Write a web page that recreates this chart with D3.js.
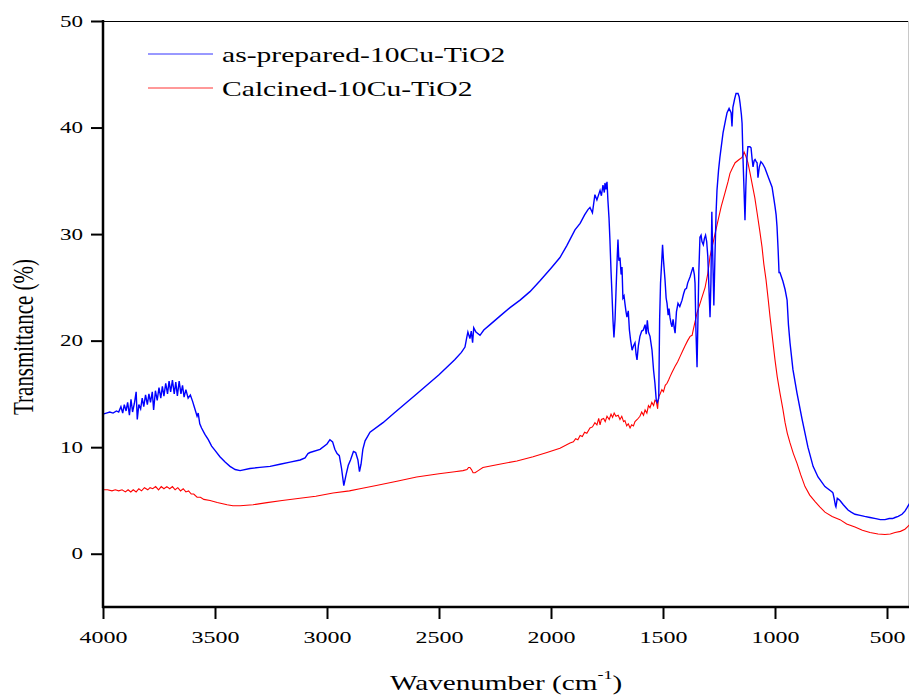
<!DOCTYPE html>
<html>
<head>
<meta charset="utf-8">
<script src="https://cdn.jsdelivr.net/npm/d3@7"></script>
<style>
  body { margin: 0; background: #fff; }
  svg { display: block; font-family: "Liberation Serif", "Times New Roman", serif; }
</style>
</head>
<body>
<svg id="chart" width="909" height="696"></svg>
<script>
"use strict";

// wavenumber (cm-1), transmittance (%)
const asPrepared = [
  [4000,13.1],[3985,13.2],[3970,13.3],[3955,13.2],[3940,13.4],[3930,13.3],[3920,13.8],[3912,13.2],
  [3905,14.0],[3897,13.4],[3890,14.2],[3882,13.0],[3875,14.5],[3868,13.3],[3860,14.1],[3852,15.2],
  [3847,12.6],[3840,14.0],[3832,13.6],[3825,14.6],[3818,13.8],[3810,14.9],[3802,14.0],[3795,15.0],
  [3788,14.2],[3780,15.2],[3774,13.5],[3766,15.3],[3758,14.4],[3750,15.6],[3742,14.6],[3735,15.7],
  [3728,14.8],[3720,16.0],[3712,15.0],[3705,16.2],[3698,15.2],[3690,16.3],[3682,15.0],[3675,16.1],
  [3668,14.8],[3660,16.2],[3652,15.0],[3645,15.8],[3638,14.7],[3630,15.4],[3620,14.6],[3610,14.9],
  [3600,14.3],[3590,13.6],[3580,12.9],[3575,13.2],[3568,12.2],[3560,11.8],[3545,11.2],[3530,10.7],
  [3515,10.1],[3500,9.7],[3478,9.1],[3455,8.6],[3433,8.2],[3410,7.9],[3388,7.8],[3344,8.0],
  [3300,8.1],[3254,8.2],[3210,8.4],[3165,8.6],[3120,8.8],[3098,9.0],[3085,9.4],[3076,9.5],
  [3031,9.8],[3000,10.3],[2987,10.7],[2975,10.5],[2965,9.8],[2955,9.4],[2945,9.2],[2935,8.0],
  [2925,6.4],[2915,7.4],[2905,8.3],[2895,8.8],[2882,9.6],[2872,9.5],[2862,8.8],[2855,7.7],
  [2848,8.4],[2840,9.8],[2830,10.6],[2808,11.4],[2750,12.3],[2700,13.2],[2600,15.0],[2500,16.8],
  [2430,18.2],[2400,18.9],[2384,19.4],[2376,20.3],[2371,20.8],[2362,20.2],[2356,20.9],[2350,19.8],
  [2345,21.2],[2335,20.8],[2317,20.5],[2300,21.0],[2272,21.5],[2228,22.3],[2183,23.1],
  [2138,23.8],[2094,24.6],[2050,25.6],[2000,26.8],[1960,27.8],[1930,28.9],[1893,30.4],[1870,31.0],
  [1850,31.8],[1835,32.3],[1826,32.5],[1815,32.0],[1804,33.7],[1795,33.2],[1781,34.1],[1775,33.6],
  [1768,34.6],[1762,33.9],[1759,34.8],[1755,34.2],[1750,34.9],[1746,33.2],[1741,31.5],[1737,29.5],
  [1732,26.5],[1728,24.5],[1723,21.8],[1719,20.3],[1714,22.0],[1710,24.5],[1705,27.5],[1701,29.5],
  [1697,27.5],[1692,27.8],[1687,26.2],[1683,26.9],[1679,24.0],[1674,24.2],[1670,23.5],[1665,22.7],
  [1661,22.2],[1655,22.8],[1650,21.0],[1645,20.1],[1638,19.1],[1632,19.5],[1625,19.8],[1620,18.7],
  [1616,18.2],[1610,19.5],[1603,20.4],[1595,20.9],[1588,21.0],[1580,21.5],[1575,20.6],[1570,21.9],
  [1565,20.8],[1558,20.4],[1549,19.1],[1542,17.2],[1536,16.0],[1530,14.4],[1525,14.2],[1519,14.6],
  [1515,22.0],[1511,25.4],[1506,27.3],[1502,29.0],[1498,27.6],[1494,26.5],[1491,25.7],[1486,24.0],
  [1482,23.5],[1477,22.4],[1473,23.0],[1469,22.2],[1464,21.6],[1460,21.3],[1455,22.0],[1450,21.2],
  [1446,20.7],[1440,22.7],[1433,23.5],[1425,23.2],[1415,23.8],[1408,24.4],[1402,24.8],[1395,24.9],
  [1390,25.4],[1379,26.0],[1372,26.5],[1366,26.9],[1360,26.2],[1357,25.4],[1353,21.0],[1348,17.5],
  [1344,22.0],[1340,26.5],[1335,29.7],[1330,29.9],[1326,29.3],[1320,29.0],[1315,29.6],[1310,29.9],
  [1305,29.3],[1300,27.9],[1295,25.0],[1290,22.2],[1286,25.5],[1282,32.1],[1278,28.0],[1273,23.3],
  [1268,28.0],[1263,32.0],[1259,34.1],[1252,36.0],[1246,37.2],[1232,39.5],[1220,40.8],[1214,41.4],
  [1205,41.8],[1196,41.4],[1192,40.1],[1188,41.9],[1180,42.7],[1174,43.2],[1165,43.2],[1160,42.9],
  [1156,42.3],[1150,41.2],[1147,40.4],[1143,37.2],[1138,34.0],[1134,31.3],[1130,34.5],[1125,37.2],
  [1121,38.2],[1112,38.2],[1107,38.1],[1102,37.0],[1098,36.3],[1093,36.9],[1089,37.0],[1084,36.8],
  [1080,36.7],[1076,35.3],[1070,36.3],[1063,36.8],[1055,36.6],[1045,36.2],[1038,35.8],[1031,35.4],
  [1020,34.8],[1013,34.4],[1005,33.3],[1000,32.6],[995,31.8],[991,30.7],[986,28.5],[982,26.4],
  [978,26.4],[965,25.6],[955,24.8],[946,23.8],[940,21.5],[933,19.8],[920,17.3],[902,15.1],
  [879,12.6],[853,10.0],[830,8.2],[808,7.2],[777,6.3],[745,5.8],[741,5.7],[736,5.2],[730,4.5],
  [728,4.4],[722,5.2],[716,5.1],[710,5.0],[695,4.6],[674,4.1],[660,3.9],[643,3.7],[620,3.6],
  [600,3.5],[576,3.4],[550,3.3],[530,3.2],[509,3.2],[490,3.3],[475,3.3],[464,3.4],[450,3.5],
  [433,3.7],[420,4.0],[411,4.3],[400,4.7]
];

const calcined = [
  [4000,6.0],[3980,6.0],[3960,5.9],[3945,6.0],[3930,5.9],[3915,6.0],[3900,5.8],[3888,6.0],
  [3876,5.8],[3865,6.0],[3852,5.8],[3840,6.1],[3828,5.9],[3815,6.2],[3800,6.0],[3790,6.2],
  [3778,6.1],[3765,6.3],[3752,6.0],[3740,6.3],[3728,6.1],[3715,6.3],[3702,6.1],[3690,6.3],
  [3678,6.0],[3666,6.2],[3654,5.9],[3642,6.1],[3630,5.8],[3618,5.9],[3606,5.6],[3595,5.6],
  [3580,5.3],[3565,5.3],[3550,5.1],[3522,5.0],[3490,4.8],[3446,4.6],[3420,4.5],[3388,4.5],
  [3330,4.6],[3268,4.8],[3200,5.0],[3121,5.2],[3050,5.4],[2973,5.7],[2900,5.9],[2853,6.1],
  [2780,6.4],[2688,6.8],[2600,7.2],[2500,7.5],[2430,7.7],[2393,7.8],[2375,7.9],[2368,8.1],
  [2362,8.1],[2355,7.9],[2348,7.6],[2339,7.6],[2325,7.8],[2304,8.1],[2230,8.4],[2152,8.7],
  [2080,9.1],[2018,9.5],[1960,9.9],[1915,10.4],[1900,10.5],[1890,10.8],[1880,10.7],[1870,11.1],
  [1860,11.0],[1850,11.4],[1840,11.3],[1826,11.8],[1815,11.9],[1804,12.3],[1795,12.1],[1787,12.7],
  [1781,12.1],[1775,12.6],[1765,12.7],[1758,12.4],[1750,12.9],[1740,12.6],[1732,13.1],[1725,12.8],
  [1718,13.2],[1710,12.9],[1700,13.0],[1692,12.6],[1684,12.9],[1676,12.4],[1670,12.5],[1662,12.0],
  [1655,12.2],[1647,11.8],[1640,12.1],[1632,12.0],[1625,12.4],[1615,12.6],[1603,12.9],[1595,13.3],
  [1587,13.0],[1580,13.5],[1572,13.2],[1565,13.9],[1558,13.7],[1550,14.2],[1542,13.9],[1536,14.4],
  [1530,14.3],[1524,13.6],[1520,14.7],[1513,15.0],[1505,15.4],[1498,15.2],[1490,15.8],[1482,16.0],
  [1475,16.3],[1469,16.6],[1460,17.0],[1446,17.6],[1435,18.0],[1424,18.5],[1413,19.0],[1402,19.5],
  [1390,20.0],[1379,20.4],[1370,20.5],[1365,21.0],[1348,22.6],[1330,23.8],[1312,25.0],[1300,26.3],
  [1290,27.9],[1270,29.8],[1254,31.3],[1240,32.6],[1223,33.9],[1210,34.9],[1201,35.7],[1190,36.2],
  [1178,36.7],[1160,37.0],[1147,37.2],[1138,37.7],[1130,37.3],[1121,36.7],[1112,35.8],[1103,34.8],
  [1090,33.4],[1080,32.0],[1068,30.3],[1058,28.8],[1050,27.2],[1040,25.7],[1030,23.8],[1022,22.2],
  [1010,20.0],[1000,18.2],[990,16.6],[978,15.1],[965,13.6],[955,12.3],[945,11.3],[933,10.4],
  [918,9.4],[902,8.5],[885,7.4],[866,6.3],[845,5.5],[821,4.9],[800,4.4],[777,3.9],
  [745,3.5],[710,3.2],[680,2.8],[643,2.5],[610,2.2],[576,2.0],[540,1.85],[509,1.8],
  [485,1.85],[464,2.0],[440,2.1],[420,2.3],[410,2.5],[400,2.7]
];

const seriesNames = ["as-prepared-10Cu-TiO2", "Calcined-10Cu-TiO2"];
const seriesColors = ["#0000ff", "#ff0000"];
const xMajorTicks = [4000, 3500, 3000, 2500, 2000, 1500, 1000, 500];
const xMinorTicks = [3750, 3250, 2750, 2250, 1750, 1250, 750];
const yMajorTicks = [0, 10, 20, 30, 40, 50];
const yMinorTicks = [-5, 5, 15, 25, 35, 45];

const svg = d3.select("#chart");
const plotLeft = 103, plotRight = 909.4, plotTop = 21, plotBottom = 607;
const sx = 1.41; // text in the source is horizontally stretched

const x = d3.scaleLinear().domain([4000, 400]).range([plotLeft, plotRight]);
const y = d3.scaleLinear().domain([-5, 50]).range([plotBottom, plotTop]);

const line = d3.line().x(d => x(d[0])).y(d => y(d[1]));

// frame (top / right thin)
svg.append("line").attr("x1", plotLeft).attr("x2", 909).attr("y1", plotTop + 0.5).attr("y2", plotTop + 0.5)
  .attr("stroke", "#000").attr("stroke-width", 1);
svg.append("line").attr("x1", 908.5).attr("x2", 908.5).attr("y1", plotTop).attr("y2", plotBottom)
  .attr("stroke", "#c8c8c8").attr("stroke-width", 1);

// curves
svg.append("path").datum(calcined).attr("d", line)
  .attr("fill", "none").attr("stroke", seriesColors[1]).attr("stroke-width", 1.1);
svg.append("path").datum(asPrepared).attr("d", line)
  .attr("fill", "none").attr("stroke", seriesColors[0]).attr("stroke-width", 1.4);

// y axis
const gy = svg.append("g").attr("transform", `translate(${plotLeft},0)`);
gy.call(d3.axisLeft(y).tickValues(yMinorTicks).tickSize(6).tickFormat(""));
gy.call(d3.axisLeft(y).tickValues(yMajorTicks).tickSize(12).tickPadding(8).tickFormat(d3.format("d")));
gy.selectAll("path.domain").remove();
gy.selectAll(".tick line").attr("stroke-width", 2);
gy.selectAll(".tick text")
  .attr("font-size", 16).attr("font-family", "Liberation Serif").attr("fill", "#000")
  .attr("textLength", d => String(d).length * 11.5).attr("lengthAdjust", "spacingAndGlyphs");

// x axis
const gx = svg.append("g").attr("transform", `translate(0,${plotBottom})`);
gx.call(d3.axisBottom(x).tickValues(xMinorTicks).tickSize(7).tickFormat(""));
gx.call(d3.axisBottom(x).tickValues(xMajorTicks).tickSize(12).tickPadding(12).tickFormat(d3.format("d")));
gx.selectAll("path.domain").remove();
gx.selectAll(".tick line").attr("stroke-width", 2);
gx.selectAll(".tick text")
  .attr("font-size", 17).attr("font-family", "Liberation Serif").attr("fill", "#000")
  .attr("textLength", d => String(d).length * 12).attr("lengthAdjust", "spacingAndGlyphs");

// axis lines
svg.append("line").attr("x1", plotLeft).attr("x2", plotLeft).attr("y1", plotTop - 1).attr("y2", plotBottom + 1)
  .attr("stroke", "#000").attr("stroke-width", 2.5);
svg.append("line").attr("x1", plotLeft - 1).attr("x2", 909).attr("y1", plotBottom).attr("y2", plotBottom)
  .attr("stroke", "#000").attr("stroke-width", 2.5);

// legend
const legendY = [54, 88];
seriesNames.forEach((name, i) => {
  svg.append("line").attr("x1", 148).attr("x2", 213).attr("y1", legendY[i]).attr("y2", legendY[i])
    .attr("stroke", seriesColors[i]).attr("stroke-width", 1).attr("opacity", 0.8);
  svg.append("text")
    .attr("transform", `translate(222,${legendY[i] + 8}) scale(${sx},1)`)
    .attr("font-size", 21).attr("fill", "#000")
    .text(name);
});

// axis titles
const xt = svg.append("text")
  .attr("transform", `translate(390,690) scale(1.39,1)`)
  .attr("font-size", 21).attr("fill", "#000");
xt.append("tspan").text("Wavenumber (cm");
xt.append("tspan").attr("dy", -11).attr("font-size", 13).text("-1");
xt.append("tspan").attr("dy", 11).text(")");

svg.append("text")
  .attr("transform", `translate(33,337) scale(1.45,1) rotate(-90)`)
  .attr("text-anchor", "middle").attr("font-size", 21).attr("fill", "#000")
  .text("Transmittance (%)");
</script>
</body>
</html>
